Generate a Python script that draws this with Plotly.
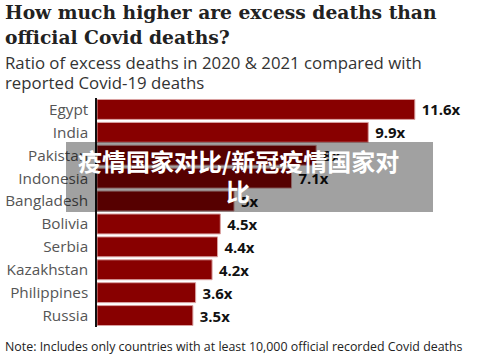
import plotly.graph_objects as go

countries = ["Egypt", "India", "Pakistan", "Indonesia", "Bangladesh", "Bolivia",
             "Serbia", "Kazakhstan", "Philippines", "Russia"]
ratios = [11.6, 9.9, 8.0, 7.1, 5.0, 4.5, 4.4, 4.2, 3.6, 3.5]
labels = ["11.6x", "9.9x", "8x", "7.1x", "5x", "4.5x", "4.4x", "4.2x", "3.6x", "3.5x"]

title_lines = ["How much higher are excess deaths than", "official Covid deaths?"]
subtitle_lines = ["Ratio of excess deaths in 2020 & 2021 compared with", "reported Covid-19 deaths"]
note = "Note: Includes only countries with at least 10,000 official recorded Covid deaths"
overlay_lines = ["疫情国家对比/新冠疫情国家对", "比"]

W, H = 500, 354
L, R, T, B = 97, 0, 98, 27
PW = W - L - R
PH = H - T - B

def px(x):
    return (x - L) / PW

def py(y):
    return (H - B - y) / PH

fig = go.Figure(go.Bar(
    x=ratios, y=countries, orientation="h",
    marker=dict(color="#880000", line=dict(color="#d9a0a0", width=1)),
    text=[" " + s for s in labels], textposition="outside", cliponaxis=False,
    textfont=dict(family="Open Sans", size=15, color="#111", weight="bold"),
))

ann = []
for i, t in enumerate(title_lines):
    ann.append(dict(text=t, x=px(3), y=py(12 + 25 * i), xref="paper", yref="paper",
                    xanchor="left", yanchor="middle", showarrow=False,
                    font=dict(family="DejaVu Serif", size=18.7, color="#222", weight="bold")))
for i, t in enumerate(subtitle_lines):
    ann.append(dict(text=t, x=px(3), y=py(63 + 19 * i), xref="paper", yref="paper",
                    xanchor="left", yanchor="middle", showarrow=False,
                    font=dict(family="Open Sans", size=16.8, color="#333")))
ann.append(dict(text=note, x=px(3), y=py(346), xref="paper", yref="paper",
                xanchor="left", yanchor="middle", showarrow=False,
                font=dict(family="Open Sans", size=12.4, color="#222")))
for i, t in enumerate(overlay_lines):
    ann.append(dict(text=t, x=px(238), y=py(160 + 30 * i), xref="paper", yref="paper",
                    xanchor="center", yanchor="middle", showarrow=False,
                    font=dict(family="Noto Sans CJK SC", size=24, color="white", weight="bold")))

fig.update_layout(
    width=W, height=H, margin=dict(l=L, r=R, t=T, b=B),
    paper_bgcolor="white", plot_bgcolor="white",
    showlegend=False, bargap=0.13,
    xaxis=dict(range=[0, PW / 27.4], visible=False, fixedrange=True),
    yaxis=dict(autorange="reversed", showline=True, linecolor="#111", linewidth=1.5,
               ticks="", ticklabelstandoff=4, showgrid=False,
               tickfont=dict(family="Open Sans", size=15.3, color="#555")),
    annotations=ann,
    shapes=[dict(type="rect", xref="paper", yref="paper", x0=px(66), x1=px(433),
                 y0=py(212), y1=py(142), fillcolor="rgba(0,0,0,0.37)",
                 line=dict(width=0), layer="above")],
)

fig.write_html("out.html")
